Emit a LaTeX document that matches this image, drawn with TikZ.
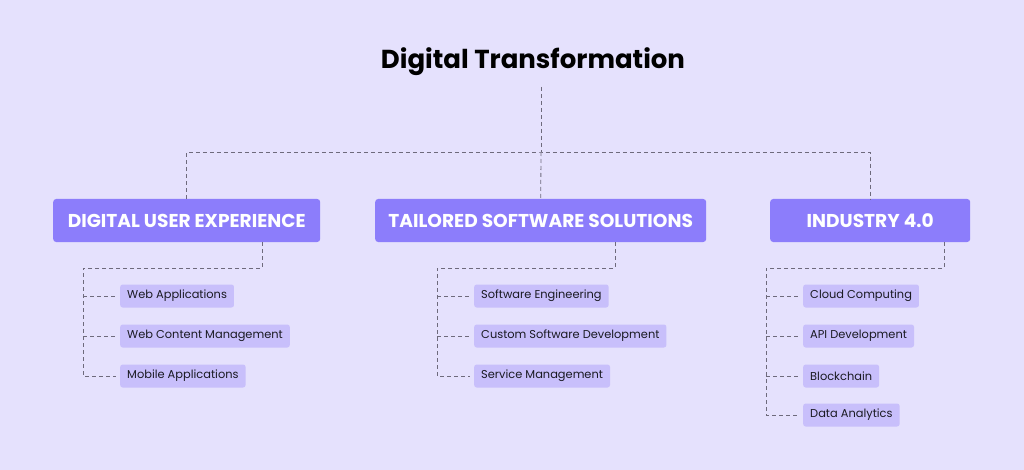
\documentclass[tikz,border=0pt]{standalone}
\usepackage{fontspec}
\setmainfont{Poppins}
\definecolor{bg}{HTML}{E5E1FD}
\definecolor{boxc}{HTML}{8C7DFB}
\definecolor{itemc}{HTML}{C8BFFB}
\definecolor{linec}{HTML}{6E6A7C}
\definecolor{txt}{HTML}{1A1A22}
\tikzset{
  mainbox/.style={fill=boxc, rounded corners=3pt, text=white, font=\fontsize{18.6}{20}\selectfont\bfseries, minimum height=43pt, inner sep=0pt, anchor=west},
  itembox/.style={fill=itemc, rounded corners=2.5pt, text=txt, font=\fontsize{11.4}{13}\selectfont, minimum height=23pt, inner xsep=7pt, inner ysep=0pt, anchor=west},
  conn/.style={draw=linec, line width=0.8pt, dash pattern=on 4pt off 3pt},
}
\begin{document}
\begin{tikzpicture}[x=1pt,y=-1pt]
\fill[bg] (0,0) rectangle (1024,470);
\useasboundingbox (0,0) rectangle (1024,470);

\node[font=\fontsize{26}{30}\selectfont\bfseries, text=black] (title) at (533,62) {Digital Transformation};

\node[mainbox, minimum width=267pt] (dux) at (53,220.5) {DIGITAL USER EXPERIENCE};
\node[mainbox, minimum width=331pt] (tss) at (375,220.5) {TAILORED SOFTWARE SOLUTIONS};
\node[mainbox, minimum width=200pt] (ind) at (770,220.5) {INDUSTRY 4.0};

\coordinate (t0) at (541,87);
\coordinate (hub) at (541,152);
\draw[conn] (t0) -- (hub);
\draw[conn] (dux.north) |- (hub) -| (ind.north);
\draw[conn] (hub) -- (tss.north);

% Digital user experience items
\node[itembox] (a1) at (120,296) {Web Applications};
\node[itembox] (a2) at (120,336) {Web Content Management};
\node[itembox] (a3) at (120,376) {Mobile Applications};
\coordinate (aS) at (262,242);
\coordinate (aC) at (83,268);
\draw[conn] (aS) |- (aC) |- ([xshift=-4pt]a3.west);
\draw[conn] (a1.west -| aC) -- ([xshift=-4pt]a1.west);
\draw[conn] (a2.west -| aC) -- ([xshift=-4pt]a2.west);

% Tailored software items
\node[itembox] (b1) at (474,296) {Software Engineering};
\node[itembox] (b2) at (474,336) {Custom Software Development};
\node[itembox] (b3) at (474,376) {Service Management};
\coordinate (bS) at (615,242);
\coordinate (bC) at (437,268);
\draw[conn] (bS) |- (bC) |- ([xshift=-4pt]b3.west);
\draw[conn] (b1.west -| bC) -- ([xshift=-4pt]b1.west);
\draw[conn] (b2.west -| bC) -- ([xshift=-4pt]b2.west);

% Industry items
\node[itembox] (c1) at (803,296) {Cloud Computing};
\node[itembox] (c2) at (803,336) {API Development};
\node[itembox] (c3) at (803,376) {Blockchain};
\node[itembox] (c4) at (803,415) {Data Analytics};
\coordinate (cS) at (944,242);
\coordinate (cC) at (766,268);
\draw[conn] (cS) |- (cC) |- ([xshift=-4pt]c4.west);
\draw[conn] (c1.west -| cC) -- ([xshift=-4pt]c1.west);
\draw[conn] (c2.west -| cC) -- ([xshift=-4pt]c2.west);
\draw[conn] (c3.west -| cC) -- ([xshift=-4pt]c3.west);
\end{tikzpicture}
\end{document}
